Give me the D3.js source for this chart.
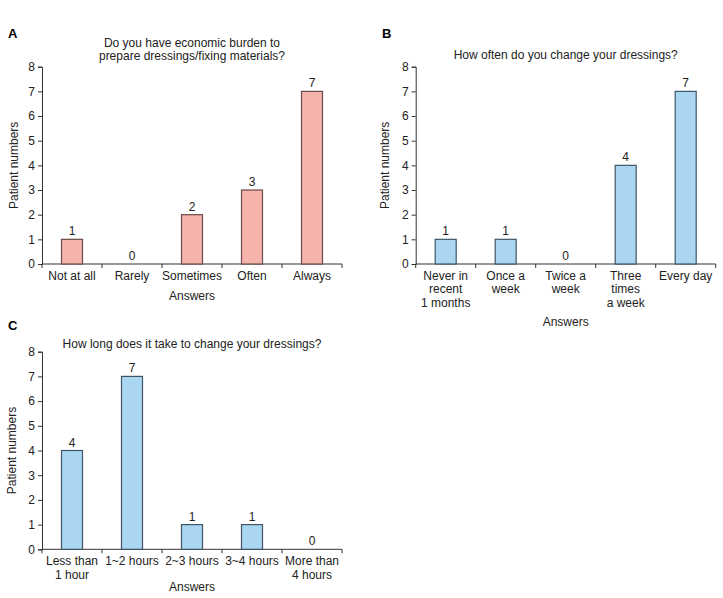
<!DOCTYPE html>
<html>
<head>
<meta charset="utf-8">
<script src="https://cdn.jsdelivr.net/npm/d3@7"></script>
<style>
  body { margin: 0; background: #fff; }
  svg text { font-family: "Liberation Sans", Arial, sans-serif; fill: #222; }
</style>
</head>
<body>
<div id="chart"></div>
<script>
const answersA = ['Not at all', 'Rarely', 'Sometimes', 'Often', 'Always'];
const valuesA = [1, 0, 2, 3, 7];
const titleA = ['Do you have economic burden to', 'prepare dressings/fixing materials?'];

const answersB = [['Never in', 'recent', '1 months'], ['Once a', 'week'], ['Twice a', 'week'], ['Three', 'times', 'a week'], ['Every day']];
const valuesB = [1, 1, 0, 4, 7];
const titleB = ['How often do you change your dressings?'];

const answersC = [['Less than', '1 hour'], ['1~2 hours'], ['2~3 hours'], ['3~4 hours'], ['More than', '4 hours']];
const valuesC = [4, 7, 1, 1, 0];
const titleC = ['How long does it take to change your dressings?'];

const yTicks = [0, 1, 2, 3, 4, 5, 6, 7, 8];

const fs = 12;

const svg = d3.select('#chart')
  .append('svg')
    .attr('width', 723)
    .attr('height', 598);

const panel = (opts) => {
  const { letter, letterPos, left, right, bottom, top, cats, vals, title, titleY, fill, stroke, answersY, ylabX } = opts;
  const g = svg.append('g');

  const x = d3.scaleBand()
    .domain(d3.range(cats.length))
    .range([left, right])
    .paddingInner(0.65)
    .paddingOuter(0.325);

  const band = d3.scaleBand().domain(d3.range(cats.length)).range([left, right]);

  const y = d3.scaleLinear().domain([0, 8]).range([bottom, top]);

  g.append('text')
    .attr('x', letterPos[0])
    .attr('y', letterPos[1])
    .attr('font-size', 13)
    .attr('font-weight', 'bold')
    .style('fill', '#000')
    .text(letter);

  title.forEach((t, i) => {
    g.append('text')
      .attr('x', (left + right) / 2)
      .attr('y', titleY + i * 12.5)
      .attr('text-anchor', 'middle')
      .attr('font-size', fs)
      .text(t);
  });

  // y axis
  const yAxis = g.append('g')
    .attr('transform', `translate(${left},0)`)
    .call(d3.axisLeft(y).tickValues(yTicks).tickSize(4).tickPadding(3).tickFormat(d3.format('d')));
  yAxis.selectAll('text').attr('font-size', fs).style('font-family', '"Liberation Sans", Arial, sans-serif');

  // x axis line + ticks at band boundaries
  const xAxisG = g.append('g');
  xAxisG.append('line')
    .attr('x1', left).attr('x2', right)
    .attr('y1', bottom).attr('y2', bottom);
  xAxisG.selectAll('line.tk')
    .data(d3.range(cats.length + 1))
    .enter().append('line')
      .attr('class', 'tk')
      .attr('x1', d => d < cats.length ? band(d) : right)
      .attr('x2', d => d < cats.length ? band(d) : right)
      .attr('y1', bottom).attr('y2', bottom + 4);
  xAxisG.selectAll('line').attr('stroke', '#333').attr('stroke-width', 1);
  yAxis.selectAll('path, line').attr('stroke', '#333');

  g.selectAll('rect.bar')
    .data(vals)
    .enter().append('rect')
      .attr('class', 'bar')
      .attr('x', (d, i) => x(i))
      .attr('width', x.bandwidth())
      .attr('y', d => y(d))
      .attr('height', d => y(0) - y(d))
      .attr('fill', fill)
      .attr('stroke', stroke)
      .attr('stroke-width', 1.2)
      .attr('display', d => d > 0 ? null : 'none');

  g.selectAll('text.val')
    .data(vals)
    .enter().append('text')
      .attr('class', 'val')
      .attr('x', (d, i) => x(i) + x.bandwidth() / 2)
      .attr('y', d => y(d) - 4)
      .attr('text-anchor', 'middle')
      .attr('font-size', fs)
      .text(d => d);

  cats.forEach((lines, i) => {
    const ls = Array.isArray(lines) ? lines : [lines];
    ls.forEach((t, j) => {
      g.append('text')
        .attr('x', band(i) + band.bandwidth() / 2)
        .attr('y', bottom + 16 + j * 13.4)
        .attr('text-anchor', 'middle')
        .attr('font-size', fs)
        .text(t);
    });
  });

  g.append('text')
    .attr('x', (left + right) / 2)
    .attr('y', answersY)
    .attr('text-anchor', 'middle')
    .attr('font-size', fs)
    .text('Answers');

  g.append('text')
    .attr('transform', `translate(${ylabX},${(top + bottom) / 2}) rotate(-90)`)
    .attr('text-anchor', 'middle')
    .attr('dy', '0.35em')
    .attr('font-size', fs)
    .text('Patient numbers');
};

panel({
  letter: 'A', letterPos: [8, 38], left: 42, right: 342, bottom: 264, top: 66.7,
  cats: answersA, vals: valuesA, title: titleA, titleY: 47,
  fill: '#f5b3ac', stroke: '#6b4a48', answersY: 300, ylabX: 14
});

panel({
  letter: 'B', letterPos: [382, 38], left: 415.7, right: 715.7, bottom: 264, top: 66.7,
  cats: answersB, vals: valuesB, title: titleB, titleY: 59,
  fill: '#aad6f2', stroke: '#3f5566', answersY: 326, ylabX: 385
});

panel({
  letter: 'C', letterPos: [8, 330], left: 42, right: 342, bottom: 549.3, top: 351.7,
  cats: answersC, vals: valuesC, title: titleC, titleY: 347.5,
  fill: '#aad6f2', stroke: '#3f5566', answersY: 591, ylabX: 12
});
</script>
</body>
</html>
